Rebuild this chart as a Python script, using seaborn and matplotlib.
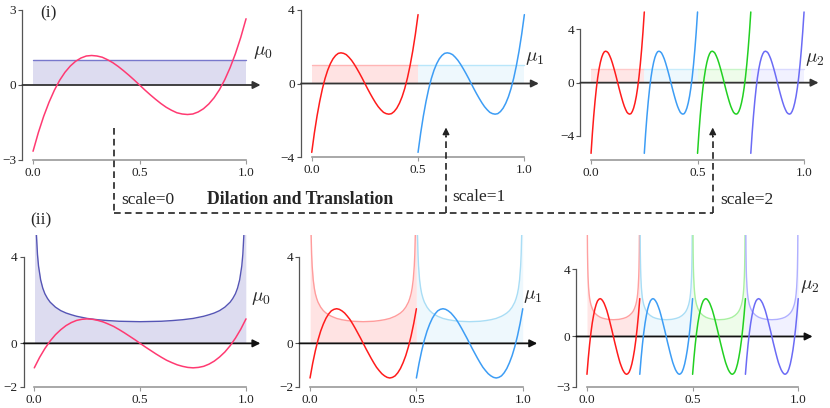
import numpy as np
import matplotlib
matplotlib.use("Agg")
import matplotlib.pyplot as plt
import seaborn as sns

x_grid = np.linspace(0, 1, 41)
legendre3 = [-2.65, -1.90, -1.25, -0.69, -0.21, 0.19, 0.51, 0.76, 0.95, 1.08,
             1.16, 1.18, 1.16, 1.11, 1.01, 0.89, 0.74, 0.57, 0.39, 0.20, 0.00,
             -0.20, -0.39, -0.57, -0.74, -0.89, -1.01, -1.11, -1.16, -1.18, -1.16,
             -1.08, -0.95, -0.76, -0.51, -0.19, 0.21, 0.69, 1.25, 1.90, 2.65]
chebyshev3 = [-1.13, -0.65, -0.24, 0.11, 0.40, 0.63, 0.82, 0.96, 1.06, 1.11,
              1.13, 1.11, 1.06, 0.99, 0.89, 0.78, 0.64, 0.49, 0.33, 0.17, 0.00,
              -0.17, -0.33, -0.49, -0.64, -0.78, -0.89, -0.99, -1.06, -1.11, -1.13,
              -1.11, -1.06, -0.96, -0.82, -0.63, -0.40, -0.11, 0.24, 0.65, 1.13]

# measures
uniform_x = [0.0, 1.0]
uniform_measure = [1.0, 1.0]
cheb_x = [0.001, 0.005, 0.01, 0.015, 0.02, 0.03, 0.04, 0.05, 0.0625, 0.075, 0.1,
          0.125, 0.15, 0.175, 0.2, 0.25, 0.3, 0.35, 0.4, 0.45, 0.5, 0.55, 0.6, 0.65,
          0.7, 0.75, 0.8, 0.825, 0.85, 0.875, 0.9, 0.925, 0.9375, 0.95, 0.96, 0.97,
          0.98, 0.985, 0.99, 0.995, 0.999]
cheb_measure = [15.82, 7.09, 5.03, 4.11, 3.57, 2.93, 2.55, 2.29, 2.07, 1.90, 1.67,
                1.51, 1.40, 1.32, 1.25, 1.15, 1.09, 1.05, 1.02, 1.01, 1.00, 1.01, 1.02,
                1.05, 1.09, 1.15, 1.25, 1.32, 1.40, 1.51, 1.67, 1.90, 2.07, 2.29, 2.55,
                2.93, 3.57, 4.11, 5.03, 7.09, 15.82]

x_ticks = [0.0, 0.5, 1.0]
x_ticklabels = ["0.0", "0.5", "1.0"]
top_yticks = [[-3, 0, 3], [-4, 0, 4], [-4, 0, 4]]
bottom_yticks = [[-2, 0, 4], [-2, 0, 4], [-3, 0, 4]]
mu_labels = [r"$\mu_0$", r"$\mu_1$", r"$\mu_2$"]

curve_colors = {0: ["#ff3a72"],
                1: ["#ff1c1c", "#3d9df5"],
                2: ["#ff1c1c", "#3d9df5", "#22d022", "#6b6bf5"]}
fill_colors = {0: ["#dddcf0"],
               1: ["#ffe3e3", "#eef8fd"],
               2: ["#ffe6e6", "#eef8fd", "#eefcea", "#f1f1ff"]}
top_meas_colors = {0: ["#7878cc"],
                   1: ["#ffb5b5", "#b8e6fa"],
                   2: ["#ffcaca", "#c8ecfb", "#c8f5c8", "#dadaff"]}
bottom_meas_colors = {0: ["#5555b5"],
                      1: ["#ff9c9c", "#a9ddf5"],
                      2: ["#ffa0a0", "#a9ddf5", "#a8f0a0", "#b0b0ff"]}

sns.set_theme(style="ticks")
plt.rcParams["font.family"] = ["Liberation Serif", "DejaVu Serif"]
plt.rcParams["mathtext.fontset"] = "cm"
plt.rcParams["lines.scale_dashes"] = False

W, H = 830, 408
fig = plt.figure(figsize=(W / 100, H / 100), dpi=100)


def px_axes(left, top, width, height):
    return fig.add_axes([left / W, 1 - (top + height) / H, width / W, height / H])


def draw_panel(ax, mother, meas_x, meas_y, scale, meas_colors, ylim, yticks,
               mu_pos, arrow_color):
    n = 2 ** scale
    amp = 2 ** (scale / 2)
    for k in range(n):
        mx = (np.asarray(meas_x) + k) / n
        my = np.asarray(meas_y)
        ax.fill_between(mx, 0, my, color=fill_colors[scale][k], lw=0, zorder=1)
        sns.lineplot(x=mx, y=my, color=meas_colors[scale][k], lw=1.0, ax=ax,
                     zorder=2)
    for k in range(n):
        cx = (x_grid + k) / n
        cy = amp * np.asarray(mother)
        sns.lineplot(x=cx, y=cy, color=curve_colors[scale][k], lw=1.1, ax=ax,
                     zorder=4)
    ax.annotate("", xy=(1.068, 0), xytext=(-0.05, 0),
                arrowprops=dict(arrowstyle="-|>", color=arrow_color, lw=1.3,
                                mutation_scale=11, shrinkA=0, shrinkB=0),
                annotation_clip=False, zorder=3)
    ax.text(mu_pos[0], mu_pos[1], mu_labels[scale], fontsize=14, ha="left",
            va="center", clip_on=False)
    ax.set_xlim(-0.05, 1.05)
    ax.set_ylim(*ylim)
    ax.set_xticks(x_ticks)
    ax.set_xticklabels(x_ticklabels)
    ax.set_yticks(yticks)
    ax.set_yticklabels([str(t).replace("-", "\u2212") for t in yticks])
    ax.set_xlabel("")
    ax.set_ylabel("")
    ax.patch.set_visible(False)
    sns.despine(ax=ax, trim=True)
    ax.spines["left"].set_color("#555555")
    ax.spines["left"].set_linewidth(0.9)
    ax.spines["bottom"].set_color("#9a9a9a")
    ax.spines["bottom"].set_linewidth(1.2)
    ax.tick_params(axis="y", length=3, width=0.8, color="#555555", pad=1.5,
                   labelsize=9.5, labelcolor="#222222")
    ax.tick_params(axis="x", length=3, width=0.8, color="#9a9a9a", pad=2,
                   labelsize=9.5, labelcolor="#222222")


top_axes = [px_axes(22.4, 10, 234.3, 150),
            px_axes(301.1, 10, 233.9, 147),
            px_axes(580.4, 10, 234.3, 150)]
bottom_axes = [px_axes(23.7, 235, 232.9, 151.7),
               px_axes(299.4, 235, 234.0, 151.7),
               px_axes(576.4, 235, 232.4, 151.7)]

top_ylims = [(-3, 3), (-4, 4), (-5.8, 5.45)]
bottom_ylims = [(-2, 5), (-2, 5), (-3, 6.06)]
top_mu = [(1.033, 1.28), (1.003, 1.36), (1.005, 1.7)]
bottom_mu = [(1.022, 2.08), (1.0, 2.18), (1.008, 2.96)]

for j in range(3):
    draw_panel(top_axes[j], legendre3, uniform_x, uniform_measure, j,
               top_meas_colors, top_ylims[j], top_yticks[j], top_mu[j], "#333333")
    draw_panel(bottom_axes[j], chebyshev3, cheb_x, cheb_measure, j,
               bottom_meas_colors, bottom_ylims[j], bottom_yticks[j], bottom_mu[j],
               "#111111")

top_axes[0].text(0.075, 0.975, "(i)", transform=top_axes[0].transAxes,
                 fontsize=12.5, ha="left", va="center")
fig.text(30 / W, 1 - 220.5 / H, "(ii)", fontsize=12.5, ha="left", va="center")

# dilation / translation annotation in pixel space
ov = fig.add_axes([0, 0, 1, 1], zorder=10)
ov.set_xlim(0, W)
ov.set_ylim(H, 0)
ov.axis("off")
dash = (0, (4.8, 3.0))
lc = "#222222"
ov.plot([114.3, 114.3], [128, 213.3], color=lc, lw=1.2, ls=dash)
ov.plot([114.3, 712.7], [213.3, 213.3], color=lc, lw=1.2, ls=dash)
for xa in [446.0, 712.7]:
    ov.plot([xa, xa], [213.3, 136], color=lc, lw=1.2, ls=dash)
    ov.annotate("", xy=(xa, 127.5), xytext=(xa, 137),
                arrowprops=dict(arrowstyle="-|>", color=lc, lw=1.0,
                                mutation_scale=10, shrinkA=0, shrinkB=0))
ov.text(121.5, 200, "scale=0", fontsize=12.5, ha="left", va="center")
ov.text(207, 200, "Dilation and Translation", fontsize=12.8, weight="bold",
        ha="left", va="center")
ov.text(452.5, 197, "scale=1", fontsize=12.5, ha="left", va="center")
ov.text(720.5, 200, "scale=2", fontsize=12.5, ha="left", va="center")

fig.savefig("out.png", dpi=100)
